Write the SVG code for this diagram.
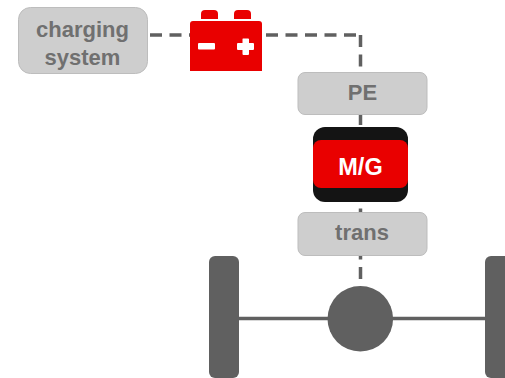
<svg xmlns="http://www.w3.org/2000/svg" width="505" height="378" viewBox="0 0 505 378">
<style>
.box{fill:#cecece;stroke:#bdbdbd;stroke-width:1}
.lbl{font-family:"Liberation Sans",Arial,sans-serif;font-size:22px;font-weight:700;fill:#707070;text-anchor:middle}
.dash{fill:none;stroke:#606060;stroke-width:3.5;stroke-dasharray:12 7.5}
.dark{fill:#606060}
.red{fill:#e90000}
</style>
<rect width="505" height="378" fill="#fff"/>
<g id="connectors">
<path class="dash" d="M150 35H192"/>
<path class="dash" d="M266 35H358"/>
<path class="dash" d="M360.500 35V127"/>
<path class="dash" d="M360.500 189V282"/>
<path d="M238 318.500H328M392 318.500H486" fill="none" stroke="#606060" stroke-width="3.500"/>
</g>
<g id="charging-system">
<rect class="box" x="18.500" y="7.500" width="129" height="66" rx="12"/>
<text class="lbl" x="82.500" y="37">charging</text>
<text class="lbl" x="82.500" y="65">system</text>
</g>
<g id="battery">
<path class="red" d="M201 19V14Q201 10 205 10H214Q218 10 218 14V19Z"/>
<path class="red" d="M234 19V14Q234 10 238 10H247Q251 10 251 14V19Z"/>
<path class="red" d="M193 21H259Q262 21 262 24V71H190V24Q190 21 193 21Z"/>
<rect x="198" y="43" width="17" height="6.500" rx="1" fill="#fff"/>
<path d="M243 38.500Q242.500 38.500 242.500 39V43H238Q237 43 237 44V49Q237 50 238 50H242.500V54Q242.500 55 243.500 55H248Q249 55 249 54V50H253Q254 50 254 49V44Q254 43 253 43H249V39Q249 38.500 248 38.500Z" fill="#fff"/>
</g>
<g id="pe">
<rect class="box" x="298" y="72.500" width="129" height="42" rx="7"/>
<text class="lbl" x="362.500" y="100">PE</text>
</g>
<g id="mg">
<rect x="313" y="127" width="95" height="75" rx="12" fill="#141414"/>
<rect class="red" x="313" y="140" width="95" height="48" rx="8"/>
<text class="lbl" x="360.500" y="175" style="fill:#fff;font-size:23.500px">M/G</text>
</g>
<g id="trans">
<rect class="box" x="298" y="212.500" width="129" height="43" rx="7"/>
<text class="lbl" x="362" y="240">trans</text>
</g>
<g id="axle">
<rect class="dark" x="209" y="256" width="30" height="122" rx="6"/>
<rect class="dark" x="485" y="256" width="30" height="122" rx="6"/>
<circle class="dark" cx="360.300" cy="318.700" r="32.800"/>
</g>
</svg>
